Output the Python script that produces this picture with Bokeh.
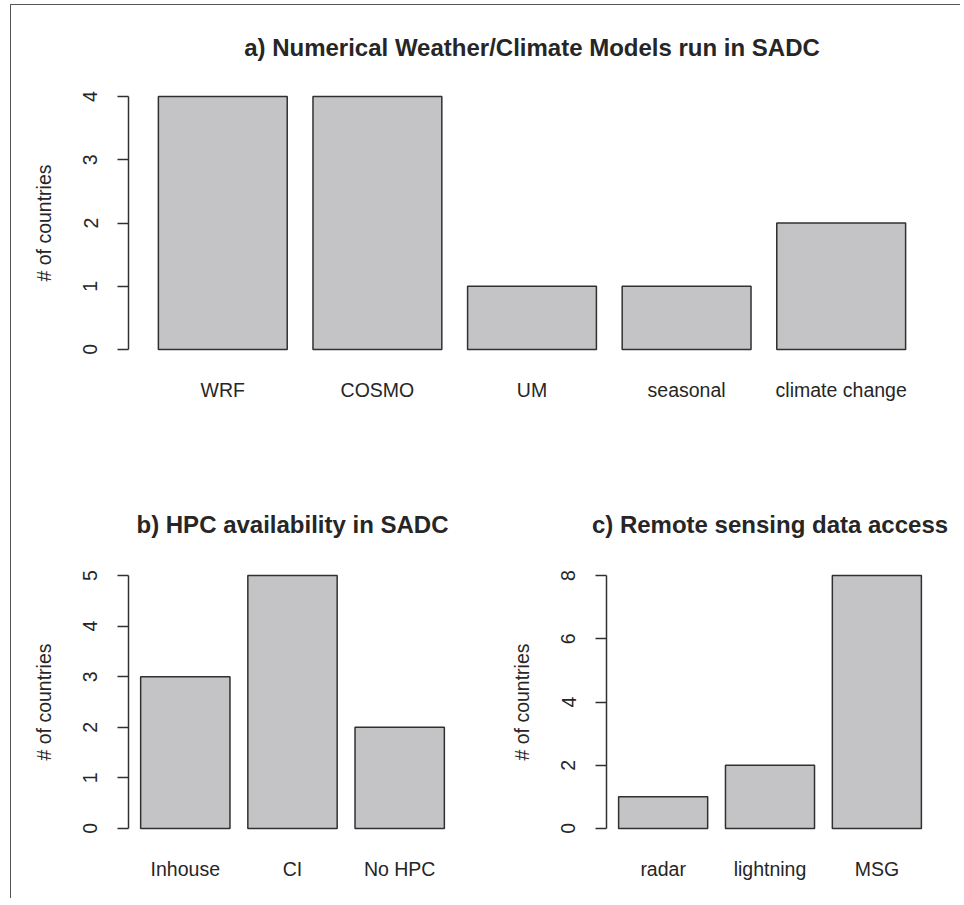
from bokeh.plotting import figure
from bokeh.models import Range1d, FixedTicker
from bokeh.layouts import column, row
from bokeh.embed import file_html
from bokeh.resources import INLINE

# ---- data ----
model_names = ["WRF", "COSMO", "UM", "seasonal", "climate change"]
model_counts = [4, 4, 1, 1, 2]
hpc_names = ["Inhouse", "CI", "No HPC"]
hpc_counts = [3, 5, 2]
rs_names = ["radar", "lightning", "MSG"]
rs_counts = [1, 2, 8]
ticks_a = [0, 1, 2, 3, 4]
ticks_b = [0, 1, 2, 3, 4, 5]
ticks_c = [0, 2, 4, 6, 8]

FONT = "Liberation Sans"
TXT = "#262626"
LINE = "#303030"


def make_panel(title, cats, vals, yticks, fw, fh, bl, br, bt, bb, tstand):
    n = len(cats)
    span = 1.2 * n - 0.2
    e = 0.04 * span
    pad = (e - 0.1) / 1.2
    ymax = max(vals)
    p = figure(
        frame_width=fw, frame_height=fh,
        min_border_left=bl, min_border_right=br,
        min_border_top=bt, min_border_bottom=bb,
        x_range=Range1d(-0.5 - pad, n - 0.5 + pad),
        y_range=Range1d(-0.04 * ymax, 1.04 * ymax),
        output_backend="svg", toolbar_location=None,
        title=title,
    )
    xs = list(range(n))
    p.vbar(x=xs, top=vals, bottom=0, width=1 / 1.2,
           fill_color="#c4c4c6", line_color=LINE, line_width=1.5)
    p.outline_line_color = None
    p.grid.visible = False
    p.background_fill_color = "white"
    p.border_fill_color = "white"

    p.title.align = "center"
    p.title.text_font = FONT
    p.title.text_font_size = "24px"
    p.title.text_font_style = "bold"
    p.title.text_color = TXT
    p.title.standoff = tstand

    xa = p.xaxis[0]
    xa.ticker = FixedTicker(ticks=xs)
    xa.major_label_overrides = {i: c for i, c in enumerate(cats)}
    xa.axis_line_color = None
    xa.major_tick_line_color = None
    xa.minor_tick_line_color = None
    xa.major_tick_out = 0
    xa.major_label_standoff = 19
    xa.major_label_text_font = FONT
    xa.major_label_text_font_size = "19.5px"
    xa.major_label_text_color = TXT

    ya = p.yaxis[0]
    ya.ticker = FixedTicker(ticks=yticks)
    ya.bounds = (yticks[0], yticks[-1])
    ya.axis_line_color = LINE
    ya.axis_line_width = 1.5
    ya.major_tick_line_color = LINE
    ya.major_tick_line_width = 1.5
    ya.major_tick_out = 11
    ya.major_tick_in = 0
    ya.minor_tick_line_color = None
    ya.major_label_orientation = "vertical"
    ya.major_label_standoff = 20
    ya.major_label_text_font = FONT
    ya.major_label_text_font_size = "19.5px"
    ya.major_label_text_color = TXT
    ya.axis_label = "# of countries"
    ya.axis_label_text_font = FONT
    ya.axis_label_text_font_size = "19.5px"
    ya.axis_label_text_font_style = "normal"
    ya.axis_label_text_color = TXT
    ya.axis_label_standoff = 26
    return p


pa = make_panel("a) Numerical Weather/Climate Models run in SADC",
                model_names, model_counts, ticks_a, 807, 273, 117, 25, 81, 101, 51)
pb = make_panel("b) HPC availability in SADC",
                hpc_names, hpc_counts, ticks_b, 328, 273, 117, 24, 105, 60, 55)
pc = make_panel("c) Remote sensing data access",
                rs_names, rs_counts, ticks_c, 327, 273, 126, 27, 105, 60, 55)

layout = column(pa, row(pb, pc),
                styles={"margin-left": "10px", "margin-top": "4px",
                        "border-left": "1px solid #555",
                        "border-top": "1px solid #555"})

open("out.html", "w").write(file_html(layout, INLINE))
